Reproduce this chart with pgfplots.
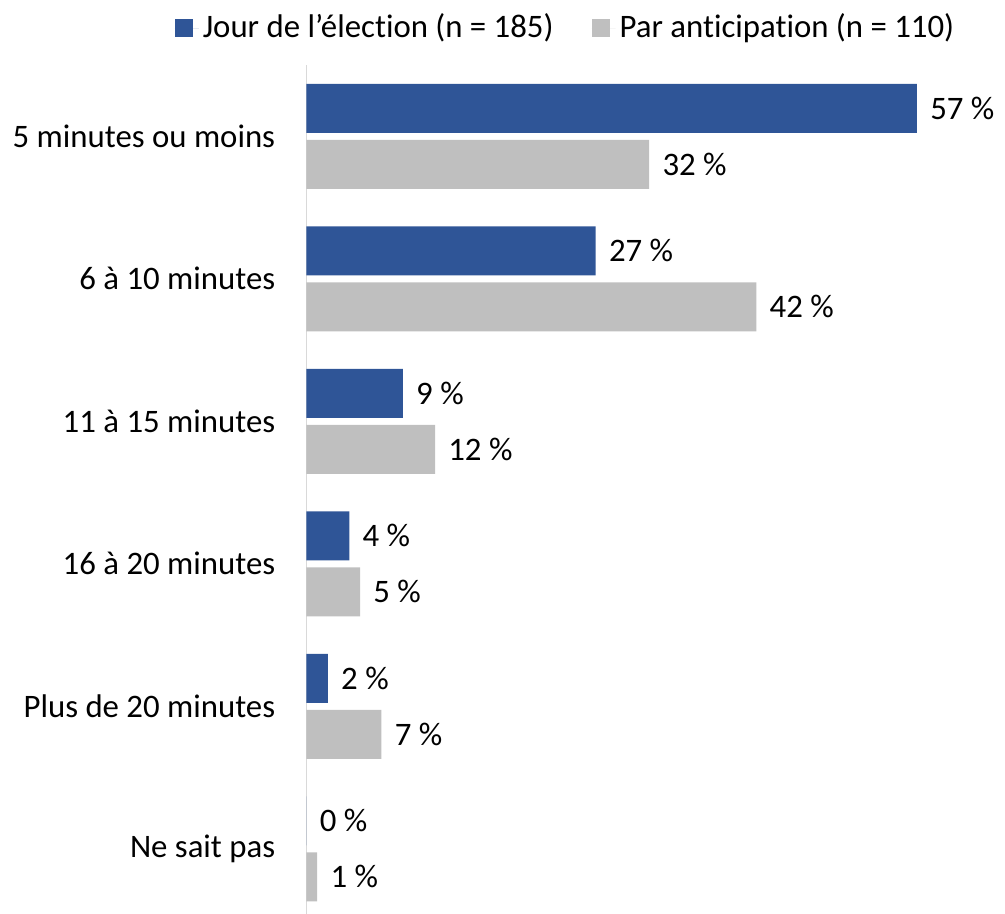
\documentclass[border=0pt]{standalone}
\usepackage{fontspec}
\setmainfont{Carlito}[Ligatures=NoCommon]
\usepackage{pgfplots}
\pgfplotsset{compat=1.18}
\definecolor{jour}{HTML}{2F5597}
\definecolor{antic}{HTML}{BFBFBF}
\begin{document}
\fontsize{16.4}{19}\selectfont
\begin{tikzpicture}
\begin{axis}[
  scale only axis,
  width=321.3pt, height=427.5pt,
  xbar, bar width=24.5pt,
  xmin=0, xmax=60,
  ymin=-0.5, ymax=5.5,
  y dir=reverse,
  hide x axis,
  axis y line*=left,
  y axis line style={draw=black!15, line width=0.8pt, -},
  ytick={0,1,2,3,4,5},
  yticklabels={5 minutes ou moins, 6 à 10 minutes, 11 à 15 minutes, 16 à 20 minutes, Plus de 20 minutes, Ne sait pas},
  major tick length=0pt,
  yticklabel style={font=\fontsize{16.4}{19}\selectfont, xshift=-10pt},
  /pgf/number format/assume math mode=true,
  nodes near coords={\pgfmathprintnumber{\pgfplotspointmeta}~\%},
  nodes near coords style={font=\fontsize{16.4}{19}\selectfont, black, xshift=1pt},
  legend columns=2,
  legend style={draw=none, at={(0.4046,1.043)}, anchor=center,
    font=\fontsize{16.4}{19}\selectfont,
    /tikz/every even column/.append style={column sep=17pt}},
  legend image code/.code={\fill[#1] (0pt,-4.5pt) rectangle (9pt,4.5pt); \path (0pt,0pt) -- (12pt,0pt);},
]
\addplot[fill=jour, draw=none, bar shift=14pt] coordinates {(57,0) (27,1) (9,2) (4,3) (2,4) (0,5)};
\addplot[fill=antic, draw=none, bar shift=-14pt] coordinates {(32,0) (42,1) (12,2) (5,3) (7,4) (1,5)};
\legend{Jour de l’élection (n = 185), Par anticipation (n = 110)}
\end{axis}
\pgfresetboundingbox
\path ([shift={(-153.25pt,3pt)}]current axis.south west) rectangle ([shift={(349.25pt,460pt)}]current axis.south west);
\end{tikzpicture}
\end{document}
